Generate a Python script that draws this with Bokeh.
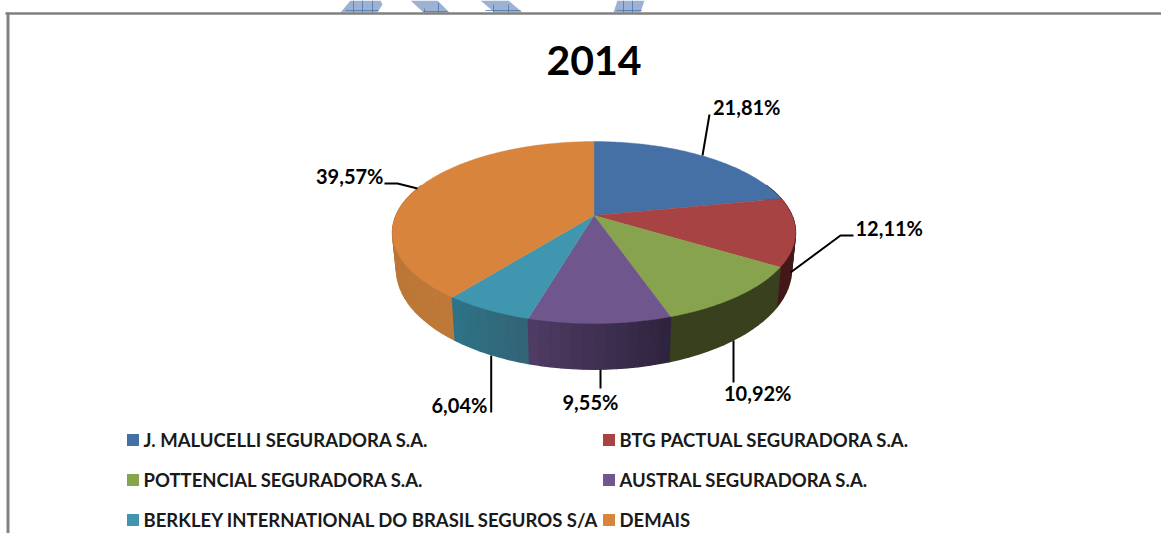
import math
from bokeh.plotting import figure
from bokeh.models import Range1d
from bokeh.core.properties import value
from bokeh.embed import file_html
from bokeh.resources import INLINE

# ---- data ----
title = "2014"
companies = ["J. MALUCELLI SEGURADORA S.A.", "BTG PACTUAL SEGURADORA S.A.",
             "POTTENCIAL SEGURADORA S.A.", "AUSTRAL SEGURADORA S.A.",
             "BERKLEY INTERNATIONAL DO BRASIL SEGUROS S/A", "DEMAIS"]
shares = [21.81, 12.11, 10.92, 9.55, 6.04, 39.57]

# ---- styles ----
top_colors = ["#4470A5", "#A74443", "#87A34D", "#6F578D", "#4096AE", "#D9843C"]
wall_start = [(60, 30, 30), (75, 28, 28), (56, 64, 30), (46, 35, 62), (50, 100, 116), (190, 120, 55)]
wall_end = [(60, 30, 30), (66, 24, 24), (56, 64, 30), (80, 60, 100), (46, 116, 136), (180, 110, 50)]
GRAY = "#808080"
FONT = value("Lato")

PW, PH = 1161, 533
p = figure(width=PW, height=PH, output_backend="svg", toolbar_location=None,
           x_range=Range1d(0, PW), y_range=Range1d(PH, 0), min_border=0,
           outline_line_color=None, background_fill_color="white",
           border_fill_color="white")
p.axis.visible = False
p.grid.visible = False

# ---- watermark and frame ----
wm_x = [[340, 350, 380, 382, 377], [410, 437, 449, 423], [480, 508, 522, 494], [617, 644, 640, 613]]
wm_y = [[12, 0, 0, 4, 12], [0, 0, 12, 12], [0, 0, 12, 12], [0, 0, 12, 12]]
p.patches(wm_x, wm_y, fill_color="#9DB2D2", line_color=None)
p.segment([353, 362, 372, 345, 424, 438, 423, 493, 508, 485, 623, 632, 616],
          [0, 0, 0, 10, 8, 2, 11, 4, 4, 10, 0, 0, 10],
          [353, 362, 372, 378, 424, 438, 447, 493, 508, 520, 623, 632, 641],
          [12, 12, 12, 10, 12, 12, 11, 12, 12, 10, 12, 12, 10],
          line_color="#4A78AE", line_width=0.8)
p.line([5, PW], [13, 13], line_color=GRAY, line_width=2.4)
p.line([7.5, 7.5], [12, PH], line_color=GRAY, line_width=3)


# ---- perspective pie ----
CX, CY, A, B, K = 593.5, 215.0, 198.0, 87.8, 0.187
def top_pt(deg):
    t = math.radians(deg)
    u, v = math.sin(t), math.cos(t)
    d = 1 + K * v
    return CX + A * u / d, CY - B * v / d

def low_pt(deg):
    x, y = top_pt(deg)
    return CX + (x - CX) * 0.98, CY + (y - CY) * 1.1 + 35

def mix(c0, c1, f):
    return "#%02x%02x%02x" % tuple(round(a + (b - a) * f) for a, b in zip(c0, c1))

edges = [0.0]
for s in shares:
    edges.append(edges[-1] + s * 3.6)

quads = []
for i in range(len(shares)):
    a0, a1 = edges[i], edges[i + 1]
    n = max(2, int((a1 - a0) / 2.5))
    for j in range(n):
        d0 = a0 + (a1 - a0) * j / n
        d1 = a0 + (a1 - a0) * (j + 1) / n
        if math.cos(math.radians((d0 + d1) / 2)) > 0.35:
            continue
        x0, y0 = top_pt(d0); x1, y1 = top_pt(d1)
        x2, y2 = low_pt(d1); x3, y3 = low_pt(d0)
        quads.append((math.cos(math.radians(d0)), [x0, x1, x2, x3], [y0, y1, y2, y3],
                      mix(wall_start[i], wall_end[i], (j + 0.5) / n)))
quads.sort(key=lambda q: -q[0])
p.patches([q[1] for q in quads], [q[2] for q in quads], fill_color=[q[3] for q in quads],
          line_color=[q[3] for q in quads], line_width=1.3)

for i in range(len(shares)):
    a0, a1 = edges[i], edges[i + 1]
    n = max(2, int((a1 - a0)))
    pts = [top_pt(a0 + (a1 - a0) * j / n) for j in range(n + 1)]
    p.patch([CX] + [q[0] for q in pts], [CY] + [q[1] for q in pts],
            fill_color=top_colors[i], line_color=top_colors[i], line_width=0.4)

# ---- leaders and labels ----
leader_x = [[702, 709], [790, 840, 853], [733, 733], [600, 600], [490.7, 490.7], [384, 397, 417]]
leader_y = [[155, 114], [272, 235, 235], [340, 382], [369, 388], [355, 412], [183, 183, 188]]
p.multi_line(leader_x, leader_y, line_color="black", line_width=2)

label_x = [712.5, 855, 723.5, 562, 431, 315.5]
label_y = [106.5, 227.5, 392.5, 401.5, 404.5, 175.5]
labels = [f"{s:.2f}".replace(".", ",") + "%" for s in shares]
p.text(label_x, label_y, text=labels, text_font=FONT, text_font_size=value("20px"),
       text_font_style="bold", text_color="black", text_align="left", text_baseline="middle")

p.text([593.5], [60], text=[title], text_font=FONT, text_font_size=value("41px"),
       text_font_style="bold", text_color="black", text_align="center", text_baseline="middle")

# ---- legend ----
col_x = [126.5, 602.5]
row_y = [439.5, 479.5, 519.5]
sw_x, sw_y, tx_x, tx_y = [], [], [], []
for i in range(len(companies)):
    c, r = i % 2, i // 2
    sw_x.append(col_x[c] + 6); sw_y.append(row_y[r])
    tx_x.append(col_x[c] + 16.5); tx_y.append(row_y[r])
p.rect(sw_x, sw_y, width=12, height=12, fill_color=top_colors, line_color=None)
p.text(tx_x, tx_y, text=companies, text_font=FONT, text_font_size=value("18.5px"),
       text_font_style="bold", text_color="#1a1a1a", text_align="left", text_baseline="middle")

open("out.html", "w").write(file_html(p, INLINE))
